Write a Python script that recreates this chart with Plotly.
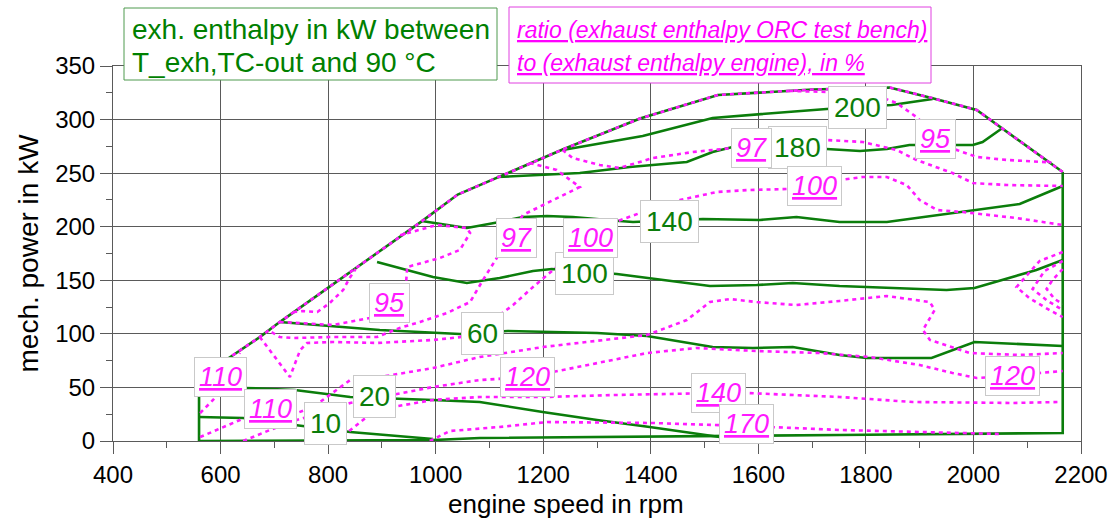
import plotly.graph_objects as go

# ---- operating envelope of the engine map (full-load curve, right limit, minimum load) ----
env_top_speed = [560, 560, 623, 673, 710, 891, 974, 1041, 1116, 1199, 1236, 1380, 1525, 1701, 1844, 1924, 2006, 2166]
env_top_power = [0, 59, 80, 97, 111, 176, 205, 230, 246, 264, 272, 301, 323, 328, 330, 320, 309, 251]
env_low_speed = [2166, 2166, 1751, 1528, 1082, 995, 560]
env_low_power = [251, 7.5, 5.6, 4.7, 2.8, 0.9, 0]

# ---- exhaust enthalpy iso-lines (kW) ----
h10_speed = [560, 642, 738, 841, 995]
h10_power = [22.4, 21.5, 14.9, 8.4, 1.9]
h20_speed = [560, 645, 738, 841, 995, 1082, 1199, 1300, 1398, 1528]
h20_power = [49.5, 49.5, 47.6, 41.1, 38.3, 36.4, 27.1, 19.6, 13.1, 3.7]
h60_speed = [710, 896, 1045, 1134, 1300, 1393, 1515, 1590, 1664, 1751, 1801, 1922, 2002, 2166]
h60_power = [111.1, 103.6, 99.9, 102.7, 100.8, 98, 87.7, 86.8, 87.7, 80.3, 77.5, 77.5, 92.4, 88.7]
h100_speed = [891, 995, 1058, 1119, 1181, 1216, 1337, 1398, 1510, 1597, 1664, 1751, 1857, 1950, 2002, 2054, 2117, 2166]
h100_power = [167.1, 153.1, 147.5, 152.1, 158.7, 160.5, 155.9, 152.1, 144.7, 145.6, 147.5, 144.7, 142.8, 140.9, 142.8, 150.3, 159.6, 168.9]
h140_speed = [974, 1058, 1119, 1162, 1207, 1255, 1342, 1367, 1497, 1603, 1671, 1751, 1839, 1919, 1999, 2086, 2166]
h140_power = [205.3, 198.8, 204.4, 209.1, 210, 209.1, 205.3, 204.4, 207.2, 206.3, 209.1, 204.4, 204.4, 210, 215.6, 221.2, 238]
h180_speed = [1114, 1268, 1361, 1467, 1515, 1552, 1727, 1789, 1839, 1881, 1969, 1999, 2017, 2054]
h180_power = [246.4, 250.1, 255.7, 260.4, 269.7, 274.4, 272.5, 270.7, 272.5, 276.3, 276.3, 276.3, 279.1, 292.1]
h200_speed = [1236, 1385, 1515, 1727, 1848, 1924]
h200_power = [271.6, 284.7, 301.5, 309.9, 313.6, 319.2]

# ---- enthalpy ratio iso-lines (%) ----
r95a_speed = [1658, 1733, 1807, 1857, 1894, 1930, 1969, 2006, 2062, 2145]
r95a_power = [326.7, 325.7, 324.8, 315.5, 302.4, 285.6, 271.6, 265.1, 262.3, 260.0]
r95b_speed = [710, 809, 878, 915, 945, 947, 1008, 1045, 1064, 1058, 1002, 934]
r95b_power = [111.1, 108.3, 114.8, 128.8, 147.5, 162.4, 170.8, 178.3, 194.1, 198.8, 201.6, 192.0]
r95c_speed = [735, 753, 780, 803, 828, 840, 851]
r95c_power = [120.4, 121.3, 120.4, 128.8, 140.9, 152.1, 160.5]
r97a_speed = [1236, 1255, 1305, 1342, 1404, 1478, 1552, 1625, 1727, 1794, 1857, 1894, 1961, 1999, 2062, 2166]
r97a_power = [271.6, 264.1, 257.6, 254.8, 264.1, 269.7, 273.5, 276.3, 280.9, 279.1, 271.6, 262.3, 250.1, 240.8, 238.9, 238]
r97b_speed = [1175, 1225, 1268, 1231, 1162, 1138, 1114, 1088, 1064, 1021, 971, 933, 891, 809, 735, 710, 688]
r97b_power = [259.5, 252.9, 237.1, 227.7, 210.9, 190.4, 171.7, 150.3, 129.7, 119.5, 111.1, 105.5, 97.1, 97.1, 96.1, 97.1, 103.6]
r100_speed = [673, 729, 748, 761, 809, 891, 995, 1045, 1106, 1144, 1181, 1207, 1236, 1287, 1329, 1380, 1454, 1523, 1584, 1658, 1705, 1751, 1794, 1839, 1876, 1900, 1932, 1980, 2080, 2166]
r100_power = [97.1, 59.7, 84.9, 91.5, 92.4, 91.5, 94.3, 96.9, 112.9, 126.9, 143.7, 154.9, 167.1, 187.6, 203.5, 212.8, 224.9, 232.4, 234.3, 235.2, 238, 243.6, 246.4, 246.4, 238.9, 224.9, 215.6, 213.7, 208.1, 201.6]
r110a_speed = [562, 586, 608, 636]
r110a_power = [26.1, 38.3, 52.3, 82.1]
r110b_speed = [562, 645, 692, 742, 772, 841, 896, 995, 1082, 1199, 1393, 1467, 1510, 1547, 1597, 1671, 1751, 1839, 1919, 1928, 1906, 1919, 1993, 2086, 2166]
r110b_power = [3.7, 21.5, 27.1, 26.1, 31.7, 56.9, 59.7, 68.1, 78.4, 87.7, 98.9, 112.9, 129.7, 132.5, 129.7, 126.9, 130.7, 135.3, 129.7, 122.3, 103.6, 94.3, 82.1, 80.3, 82.1]
r120a_speed = [642, 692, 742, 803, 841, 933, 995, 1082, 1171, 1218, 1329, 1393, 1485, 1597, 1714, 1807, 1900, 1961, 2006, 2073, 2123, 2166]
r120a_power = [0, 10.3, 19.6, 28.9, 35.5, 44.8, 50.4, 56.9, 59.7, 64.4, 75.6, 82.1, 86.8, 84.0, 82.1, 78.4, 70.9, 63.5, 58.8, 60.7, 63.5, 65.3]
r140_speed = [816, 872, 920, 995, 1082, 1207, 1329, 1478, 1526, 1578, 1751, 1887, 2073, 2160]
r140_power = [0, 22.4, 31.7, 38.3, 41.1, 41.1, 42.9, 44.8, 44.8, 44.8, 41.1, 36.4, 35.5, 36.4]
r170_speed = [989, 1026, 1119, 1207, 1404, 1578, 1751, 1900, 2054]
r170_power = [0, 9.3, 13.1, 17.7, 16.8, 14.0, 10.3, 8.4, 6.5]
r_edge1_speed = [2166, 2123, 2080, 2104, 2141, 2166]
r_edge1_power = [176.4, 168.0, 143.7, 133.4, 122.3, 115.7]
r_edge2_speed = [2166, 2132, 2110, 2138, 2166]
r_edge2_power = [168.0, 158.7, 141.9, 130.7, 122.3]
r_edge3_speed = [2166, 2147, 2136, 2151, 2166]
r_edge3_power = [160.5, 150.3, 141.9, 132.5, 127.9]

# ---- inline value labels ----
h_lab_text = ["10", "20", "60", "100", "140", "180", "200"]
h_lab_speed = [796, 887, 1088, 1277, 1435, 1673, 1785]
h_lab_power = [15.9, 41.1, 100.8, 156.8, 205.3, 273.5, 311.7]
r_lab_text = ["95", "97", "100", "97", "100", "95", "110", "110", "120", "140", "170", "120"]
r_lab_speed = [1930, 1588, 1705, 1151, 1287, 915, 599, 692, 1171, 1526, 1578, 2073]
r_lab_power = [281.9, 273.5, 238, 189.5, 189.5, 128.8, 59.7, 29.9, 59.7, 44.8, 15.9, 60.7]

GREEN = "#0b7d0b"
MAGENTA = "#ff1aff"
FONT = "Liberation Sans, Arial, sans-serif"

fig = go.Figure()


def green_line(xs, ys):
    fig.add_trace(go.Scatter(x=xs, y=ys, mode="lines", hoverinfo="skip",
                             line=dict(color=GREEN, width=2.6), showlegend=False))


def magenta_line(xs, ys):
    fig.add_trace(go.Scatter(x=xs, y=ys, mode="lines", hoverinfo="skip",
                             line=dict(color=MAGENTA, width=2.6, dash="4px,4px"),
                             showlegend=False))


green_line(env_top_speed, env_top_power)
green_line(env_low_speed, env_low_power)
for xs, ys in [(h10_speed, h10_power), (h20_speed, h20_power), (h60_speed, h60_power),
               (h100_speed, h100_power), (h140_speed, h140_power),
               (h180_speed, h180_power), (h200_speed, h200_power)]:
    green_line(xs, ys)

magenta_line(env_top_speed[1:], env_top_power[1:])
for xs, ys in [(r95a_speed, r95a_power), (r95b_speed, r95b_power), (r95c_speed, r95c_power),
               (r97a_speed, r97a_power), (r97b_speed, r97b_power), (r100_speed, r100_power),
               (r110a_speed, r110a_power), (r110b_speed, r110b_power),
               (r120a_speed, r120a_power), (r140_speed, r140_power), (r170_speed, r170_power),
               (r_edge1_speed, r_edge1_power), (r_edge2_speed, r_edge2_power),
               (r_edge3_speed, r_edge3_power)]:
    magenta_line(xs, ys)

annotations = []
for t, x, y in zip(h_lab_text, h_lab_speed, h_lab_power):
    annotations.append(dict(x=x, y=y, xref="x", yref="y", text=t, showarrow=False,
                            font=dict(family=FONT, size=28, color=GREEN),
                            bgcolor="white", bordercolor="#c9c9c9", borderwidth=1, borderpad=5))
for t, x, y in zip(r_lab_text, r_lab_speed, r_lab_power):
    annotations.append(dict(x=x, y=y, xref="x", yref="y", text="<i><u>" + t + "</u></i>",
                            showarrow=False, font=dict(family=FONT, size=27, color=MAGENTA),
                            bgcolor="white", bordercolor="#c9c9c9", borderwidth=1, borderpad=4))

# header boxes above the plot area (paper coordinates)
PW, PH = 968.0, 375.0


def px(xp):
    return (xp - 113) / PW


def py(yp):
    return (441 - yp) / PH


shapes = [
    dict(type="rect", xref="paper", yref="paper", x0=px(124), x1=px(497), y0=py(80), y1=py(8),
         line=dict(color="#4f9a4f", width=1), fillcolor="white", layer="above"),
    dict(type="rect", xref="paper", yref="paper", x0=px(509), x1=px(931), y0=py(83), y1=py(7),
         line=dict(color="#e040e0", width=1), fillcolor="white", layer="above"),
]
for text, yp in [("exh. enthalpy in kW between", 30), ("T_exh,TC-out and 90 °C", 62)]:
    annotations.append(dict(x=px(130), y=py(yp), xref="paper", yref="paper", text=text,
                            xanchor="left", yanchor="middle", showarrow=False,
                            font=dict(family=FONT, size=28, color="#008000")))
for text, yp in [("<i><u>ratio (exhaust enthalpy ORC test bench)</u></i>", 30),
                 ("<i><u>to (exhaust enthalpy engine), in %</u></i>", 63)]:
    annotations.append(dict(x=px(515), y=py(yp), xref="paper", yref="paper", text=text,
                            xanchor="left", yanchor="middle", showarrow=False,
                            font=dict(family=FONT, size=23, color="#ff00ff")))

# axis titles
annotations.append(dict(x=px(566), y=py(504), xref="paper", yref="paper", text="engine speed in rpm",
                        showarrow=False, xanchor="center", yanchor="middle",
                        font=dict(family=FONT, size=26, color="black")))
annotations.append(dict(x=px(28), y=0.5, xref="paper", yref="paper", text="mech. power in kW",
                        showarrow=False, xanchor="center", yanchor="middle", textangle=-90,
                        font=dict(family=FONT, size=28, color="black")))

axis_common = dict(showgrid=True, gridcolor="#5a5a5a", gridwidth=1, showline=True,
                   linecolor="#5a5a5a", linewidth=1, mirror=True, ticks="outside",
                   tickcolor="#5a5a5a", ticklen=12, zeroline=False, automargin=False,
                   tickfont=dict(family=FONT, size=24, color="black"))

fig.update_layout(
    width=1117, height=518,
    margin=dict(l=113, r=36, t=66, b=77),
    paper_bgcolor="white", plot_bgcolor="white",
    font=dict(family=FONT, color="black"),
    xaxis=dict(range=[400, 2200], dtick=200, tick0=400,
               minor=dict(dtick=100, ticks="outside", ticklen=6, tickcolor="#5a5a5a", showgrid=False),
               **axis_common),
    yaxis=dict(range=[0, 350], dtick=50, tick0=0,
               minor=dict(dtick=25, ticks="outside", ticklen=6, tickcolor="#5a5a5a", showgrid=False),
               **axis_common),
    annotations=annotations,
    shapes=shapes,
)

fig.write_html("out.html")
